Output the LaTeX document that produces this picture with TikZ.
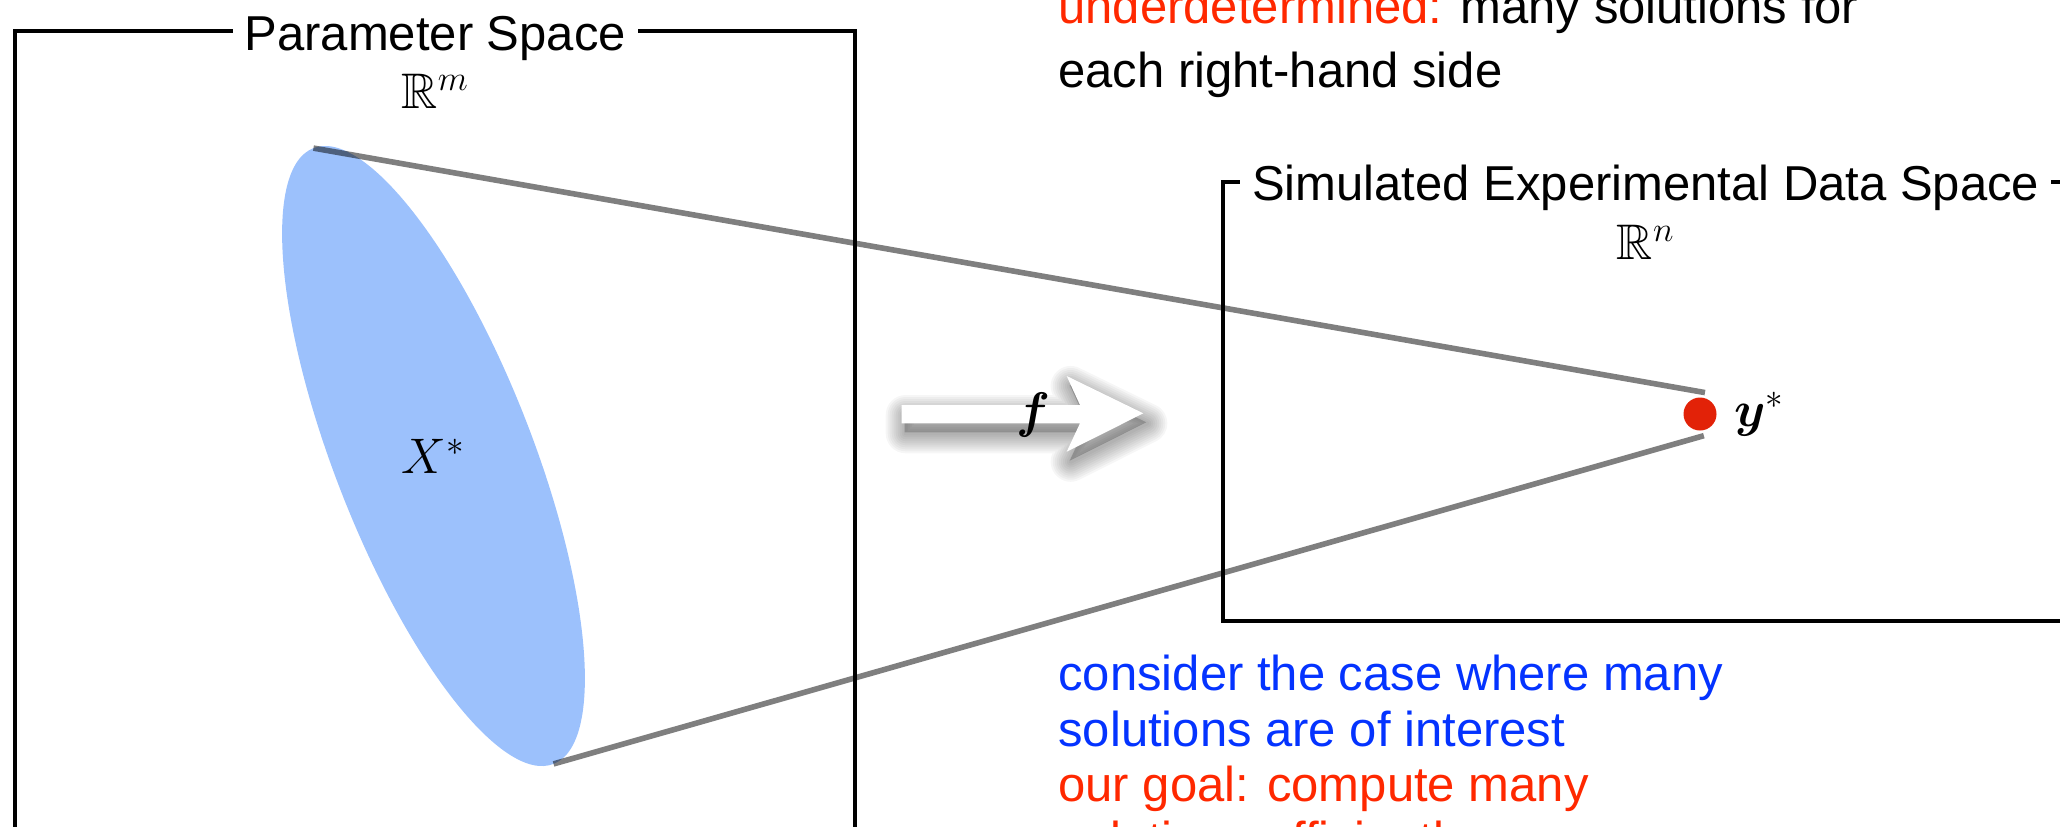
\RequirePackage{fix-cm}
\documentclass[tikz,border=0pt]{standalone}
\usepackage[no-math]{fontspec}
\setmainfont{Liberation Sans}
\usepackage{amsmath}
\usepackage{amssymb}
\usepackage{tikz}
\usetikzlibrary{positioning,shapes.geometric}
\definecolor{setblue}{RGB}{156,193,252}
\definecolor{dotred}{RGB}{226,34,8}
\definecolor{notered}{RGB}{255,40,0}
\definecolor{noteblue}{RGB}{4,51,255}
\newcommand{\maparrow}{(901.7,405) -- (1080,405) -- (1066.7,376) -- (1143.3,413.3) -- (1066.7,451.7) -- (1080,423.3) -- (901.7,423.3) -- cycle}

\begin{document}
\begin{tikzpicture}[x=0.5pt, y=-0.5pt,
    spacebox/.style={draw, line width=2pt, inner sep=0pt, anchor=north west},
    boxtitle/.style={fill=white, anchor=base, yshift=-10.4pt, inner xsep=6pt, inner ysep=2pt, font=\fontsize{24.5}{28}\selectfont},
    mathlbl/.style={inner sep=0pt, font=\fontsize{25}{30}\selectfont},
    cone/.style={draw=black, opacity=0.5, line width=2.8pt},
    note/.style={align=left, inner sep=0pt, font=\fontsize{24.5}{27.6}\selectfont}
  ]
  \path[use as bounding box, clip] (0,0) rectangle (2060,826);

  % parameter space
  \node[spacebox, minimum width=420pt, minimum height=440pt] (pspace) at (13.3,29.3) {};
  \node[boxtitle] (ptitle) at (pspace.north) {Parameter Space};
  \node[mathlbl, anchor=base, yshift=-39.5pt] (rm) at (pspace.north) {$\mathbb{R}^m$};

  % data space
  \node[spacebox, minimum width=423pt, minimum height=219.5pt] (dspace) at (1220.7,180) {};
  \node[boxtitle] (dtitle) at (dspace.north) {Simulated Experimental Data Space};
  \node[mathlbl, anchor=base, yshift=-39.7pt] (rn) at (dspace.north) {$\mathbb{R}^n$};

  % solution set and its image
  \node[ellipse, fill=setblue, minimum width=330.5pt, minimum height=99pt, inner sep=0pt, outer sep=0pt, rotate=-68.7] (xset) at (433.5,456) {};
  \node[mathlbl] (xlab) at (xset.center) {$X^*$};
  \node[circle, fill=dotred, minimum size=16.5pt, inner sep=0pt, outer sep=2.75pt] (ydot) at (1700,414) {};
  \node[mathlbl, right=6pt of ydot] (ylab) {$\boldsymbol{y}^*$};

  \draw[cone] (xset.west) -- (ydot.77);
  \draw[cone] (xset.east) -- (ydot.-80);

  % the map f
  \fill[black, opacity=0.2, shift={(3,9)}] \maparrow;
  \foreach \w in {2,4,...,20}
    \draw[line width=\w pt, line join=round, black, opacity=0.035, shift={(4,10)}] \maparrow;
  \fill[white] \maparrow;
  \node[mathlbl] (flab) at (1033,415) {$\boldsymbol{f}$};

  % notes
  \node[note, anchor=south west, font=\fontsize{24.5}{32}\selectfont] (topnote) at (1058,97.8) {\textcolor{notered}{underdetermined:} many solutions for\\each right-hand side};
  \node[note, anchor=north west] (botnote) at (1058,655) {\textcolor{noteblue}{consider the case where many}\\\textcolor{noteblue}{solutions are of interest}\\\textcolor{notered}{our goal: compute many}\\\textcolor{notered}{solutions efficiently}};
\end{tikzpicture}
\end{document}
